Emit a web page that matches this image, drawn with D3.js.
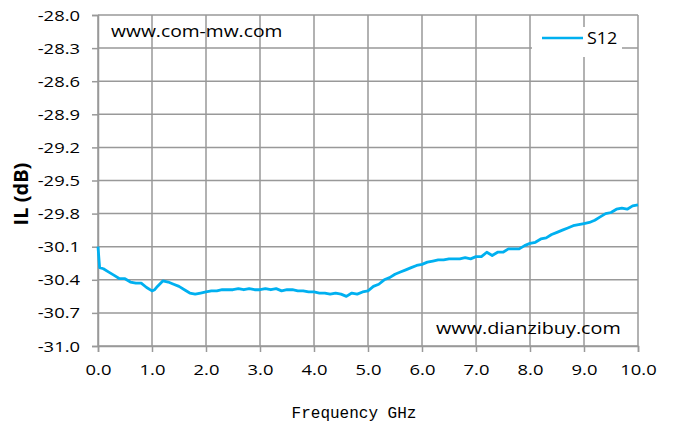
<!DOCTYPE html>
<html><head><meta charset="utf-8">
<script src="https://cdn.jsdelivr.net/npm/d3@7/dist/d3.min.js"></script>
<style>body{margin:0;background:#fff}svg{display:block}</style>
</head><body>
<svg id="c" width="674" height="428"></svg>
<script>
const freqGHz = [0,0.03,0.1,0.2,0.3,0.4,0.5,0.6,0.7,0.8,0.9,1.0,1.05,1.1,1.2,1.3,1.4,1.5,1.6,1.7,1.8,1.9,
2.0,2.1,2.2,2.3,2.4,2.5,2.6,2.7,2.8,2.9,3.0,3.1,3.2,3.3,3.4,3.5,3.6,3.7,3.8,3.9,
4.0,4.1,4.2,4.3,4.4,4.5,4.6,4.7,4.8,4.9,5.0,5.1,5.2,5.3,5.4,5.5,5.6,5.7,5.8,5.9,
6.0,6.1,6.2,6.3,6.4,6.5,6.6,6.7,6.8,6.9,7.0,7.1,7.2,7.3,7.4,7.5,7.6,7.7,7.8,7.9,
8.0,8.1,8.2,8.3,8.4,8.5,8.6,8.7,8.8,8.9,9.0,9.1,9.2,9.3,9.4,9.5,9.6,9.7,9.8,9.9,10.0];
const s12 = [-30.10,-30.29,-30.30,-30.33,-30.36,-30.39,-30.39,-30.42,-30.43,-30.43,-30.47,-30.50,-30.49,-30.46,-30.41,-30.42,-30.44,-30.46,-30.49,-30.52,-30.53,-30.52,
-30.51,-30.50,-30.50,-30.49,-30.49,-30.49,-30.48,-30.49,-30.48,-30.49,-30.49,-30.48,-30.49,-30.48,-30.50,-30.49,-30.49,-30.50,-30.50,-30.51,
-30.51,-30.52,-30.52,-30.53,-30.52,-30.53,-30.55,-30.52,-30.53,-30.51,-30.50,-30.46,-30.44,-30.40,-30.38,-30.35,-30.33,-30.31,-30.29,-30.27,
-30.26,-30.24,-30.23,-30.22,-30.22,-30.21,-30.21,-30.21,-30.20,-30.21,-30.19,-30.19,-30.15,-30.18,-30.15,-30.15,-30.12,-30.12,-30.12,-30.09,
-30.07,-30.06,-30.03,-30.02,-29.99,-29.97,-29.95,-29.93,-29.91,-29.90,-29.89,-29.88,-29.86,-29.83,-29.80,-29.79,-29.76,-29.75,-29.76,-29.73,-29.72];
const xTicks = [0,1,2,3,4,5,6,7,8,9,10];
const yTicks = [-28.0,-28.3,-28.6,-28.9,-29.2,-29.5,-29.8,-30.1,-30.4,-30.7,-31.0];
const seriesName = "S12";
const xTitle = "Frequency GHz";
const yTitle = "IL (dB)";
const watermarks = ["www.com-mw.com","www.dianzibuy.com"];

const svg = d3.select("#c");
const L=98,R=638,T=15,B=346;
const x = d3.scaleLinear().domain([0,10]).range([L,R]);
const y = d3.scaleLinear().domain([-31,-28]).range([B,T]);
const grid="#999";
const FONT="'Open Sans',sans-serif";
const fmt = d => d.toFixed(1);
const SX = 1.27;

// grid
svg.append("g").selectAll("line").data(yTicks).join("line")
  .attr("x1",L).attr("x2",R).attr("y1",d=>y(d)).attr("y2",d=>y(d))
  .attr("stroke",grid).attr("stroke-width",1.5);
svg.append("g").selectAll("line").data(xTicks).join("line")
  .attr("x1",d=>x(d)).attr("x2",d=>x(d)).attr("y1",T).attr("y2",B)
  .attr("stroke",grid).attr("stroke-width",1.5);

// axes
const xa = svg.append("g").attr("transform",`translate(0,${B})`)
  .call(d3.axisBottom(x).tickValues(xTicks).tickFormat(fmt).tickSize(6).tickPadding(13));
const ya = svg.append("g").attr("transform",`translate(${L},0)`)
  .call(d3.axisLeft(y).tickValues(yTicks).tickFormat(fmt).tickSize(6).tickPadding(12));
[xa,ya].forEach(a=>{
  a.select(".domain").attr("stroke",grid).attr("stroke-width",1.5);
  a.selectAll(".tick line").attr("stroke",grid).attr("stroke-width",1.5);
  a.selectAll("text").attr("font-family",FONT).attr("font-size",14.5).attr("fill","#000");
});
ya.selectAll("text").attr("dy","0.35em").attr("x",-18/SX).attr("transform",`scale(${SX},1)`);
xa.selectAll("text").attr("transform",`scale(${SX},1)`);

// watermarks
svg.append("text").attr("transform",`translate(111,37) scale(1.17,1)`).text(watermarks[0])
  .attr("font-family",FONT).attr("font-size",16.5).attr("fill","#000");
svg.append("text").attr("transform",`translate(436,334) scale(1.2,1)`).text(watermarks[1])
  .attr("font-family",FONT).attr("font-size",16.5).attr("fill","#000");

// legend
svg.append("rect").attr("x",532).attr("y",27).attr("width",90).attr("height",30).attr("fill","#fff");
svg.append("line").attr("x1",542).attr("x2",583).attr("y1",38).attr("y2",38)
  .attr("stroke","#00b0f0").attr("stroke-width",2.5);
svg.append("text").attr("transform","translate(587,38) scale(1.12,1)").attr("dy","0.35em").text(seriesName)
  .attr("font-family",FONT).attr("font-size",16).attr("fill","#000");

// line
const line = d3.line().x((d,i)=>x(freqGHz[i])).y(d=>y(d));
svg.append("path").datum(s12).attr("d",line).attr("fill","none")
  .attr("stroke","#00b0f0").attr("stroke-width",2.8).attr("stroke-linejoin","round");

// titles
svg.append("text").attr("x",354).attr("y",418).attr("text-anchor","middle").text(xTitle)
  .attr("font-family","'Liberation Mono',monospace").attr("font-size",16).attr("fill","#000");
svg.append("text").attr("transform","translate(28,194) rotate(-90)").attr("text-anchor","middle").text(yTitle)
  .attr("font-family",FONT).attr("font-size",20).attr("font-weight","bold").attr("fill","#000");
</script>
</body></html>
